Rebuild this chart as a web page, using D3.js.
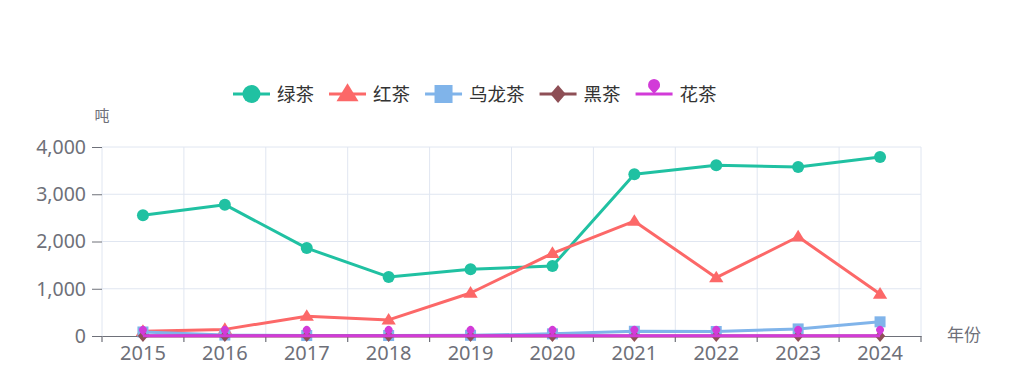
<!DOCTYPE html>
<html>
<head>
<meta charset="utf-8">
<script src="https://cdn.jsdelivr.net/npm/d3@7/dist/d3.min.js"></script>
<style>
  html, body { margin: 0; padding: 0; background: #fff; }
  svg { display: block; font-family: "Noto Sans", "Noto Sans CJK SC", sans-serif; }
</style>
</head>
<body>
<svg id="chart" width="1024" height="366"></svg>
<script>
// ---- data ----
const years = ["2015","2016","2017","2018","2019","2020","2021","2022","2023","2024"];
const seriesNames = ["绿茶","红茶","乌龙茶","黑茶","花茶"];
const greenTea  = [2555, 2780, 1860, 1250, 1415, 1480, 3425, 3615, 3575, 3790];
const blackTea  = [100, 140, 420, 340, 910, 1750, 2430, 1235, 2100, 890];
const oolongTea = [85, 20, 10, 10, 15, 45, 100, 95, 150, 300];
const darkTea   = [2, 2, 2, 2, 2, 2, 2, 2, 2, 2];
const flowerTea = [5, 5, 5, 5, 5, 5, 5, 5, 5, 5];
const yTicks = [0, 1000, 2000, 3000, 4000];
const yAxisName = "吨";
const xAxisName = "年份";

const seriesValues = [greenTea, blackTea, oolongTea, darkTea, flowerTea];
const colors = ["#20c1a2", "#fc6868", "#80b4ea", "#8e4f56", "#d23bd8"];
const symbols = ["circle", "triangle", "square", "diamond", "pin"];

// ---- layout ----
const svg = d3.select("#chart");
const gLeft = 102, gRight = 921, gTop = 147, gBottom = 336;

const x = d3.scaleBand().domain(years).range([gLeft, gRight]);
const y = d3.scaleLinear().domain([0, 4000]).range([gBottom, gTop]);

const gridColor = "#e0e6f1";
const axisColor = "#6e7079";

// horizontal grid
svg.append("g").selectAll("line").data(yTicks.filter(t => t > 0)).join("line")
  .attr("x1", gLeft).attr("x2", gRight)
  .attr("y1", d => y(d)).attr("y2", d => y(d))
  .attr("stroke", gridColor).attr("stroke-width", 1);

// vertical grid at band boundaries
const bounds = years.map(d => x(d)).concat([gRight]);
svg.append("g").selectAll("line").data(bounds).join("line")
  .attr("x1", d => d).attr("x2", d => d)
  .attr("y1", gTop).attr("y2", gBottom)
  .attr("stroke", gridColor).attr("stroke-width", 1);

// y axis
const yAxis = d3.axisLeft(y).tickValues(yTicks).tickSize(10).tickPadding(6)
  .tickFormat(d3.format(","));
const gy = svg.append("g").attr("transform", `translate(${gLeft},0)`).call(yAxis);
gy.select(".domain").remove();
gy.selectAll(".tick line").attr("stroke", axisColor);
gy.selectAll(".tick text").attr("fill", axisColor).style("font-size", "19.5px")
  .style("font-family", "'Noto Sans', sans-serif");

// x axis
const gx = svg.append("g").attr("transform", `translate(0,${gBottom})`)
  .call(d3.axisBottom(x).tickSize(0).tickPadding(10));
gx.select(".domain").attr("stroke", axisColor).attr("stroke-width", 1.2);
gx.selectAll(".tick text").attr("fill", axisColor).style("font-size", "20px")
  .style("font-family", "'Noto Sans', sans-serif");
gx.selectAll(".tick line").remove();
gx.append("g").selectAll("line").data(bounds).join("line")
  .attr("x1", d => d).attr("x2", d => d).attr("y1", 0).attr("y2", 6)
  .attr("stroke", axisColor).attr("stroke-width", 1.2);

// axis names
svg.append("text").attr("x", 102).attr("y", 121).attr("text-anchor", "middle")
  .attr("fill", axisColor).style("font-size", "15px")
  .style("font-family", "'Noto Sans CJK SC', sans-serif").text(yAxisName);
svg.append("text").attr("x", 947).attr("y", 341).attr("text-anchor", "start")
  .attr("fill", axisColor).style("font-size", "17px")
  .style("font-family", "'Noto Sans CJK SC', sans-serif").text(xAxisName);

// symbol drawing
function drawSymbol(g, type, cx, cy, size, color) {
  if (type === "circle") {
    g.append("circle").attr("cx", cx).attr("cy", cy).attr("r", size / 2).attr("fill", color);
  } else if (type === "triangle") {
    const h = size * 0.9, w = size * 1.1;
    g.append("path").attr("d", `M${cx},${cy - h * 0.6} L${cx + w / 2},${cy + h * 0.4} L${cx - w / 2},${cy + h * 0.4} Z`).attr("fill", color);
  } else if (type === "square") {
    g.append("rect").attr("x", cx - size / 2).attr("y", cy - size / 2)
      .attr("width", size).attr("height", size).attr("fill", color);
  } else if (type === "diamond") {
    const w = size * 0.85, h = size;
    g.append("path").attr("d", `M${cx},${cy - h / 2} L${cx + w / 2},${cy} L${cx},${cy + h / 2} L${cx - w / 2},${cy} Z`).attr("fill", color);
  } else if (type === "pin") {
    const r = size * 0.3;
    const by = cy - size * 0.45;
    g.append("path").attr("d",
      `M${cx},${cy} L${cx - r * 0.8},${by + r * 0.6} A${r},${r} 0 1 1 ${cx + r * 0.8},${by + r * 0.6} Z`)
      .attr("fill", color);
  }
}

// lines & markers
const line = d3.line().x((d, i) => x(years[i]) + x.bandwidth() / 2).y(d => y(d));
const markerSizes = [12, 13, 11, 12, 13];
seriesValues.forEach((vals, si) => {
  const g = svg.append("g");
  g.append("path").datum(vals).attr("d", line)
    .attr("fill", "none").attr("stroke", colors[si]).attr("stroke-width", 3)
    .attr("stroke-linejoin", "round");
  vals.forEach((v, i) => {
    drawSymbol(g, symbols[si], x(years[i]) + x.bandwidth() / 2, y(v), markerSizes[si], colors[si]);
  });
});

// legend
const legend = svg.append("g");
let lx = 233;
const ly = 94;
const legendMarkerSizes = [18, 20, 18, 18, 20];
seriesNames.forEach((name, si) => {
  const g = legend.append("g");
  g.append("line").attr("x1", lx).attr("x2", lx + 37).attr("y1", ly).attr("y2", ly)
    .attr("stroke", colors[si]).attr("stroke-width", 3);
  drawSymbol(g, symbols[si], lx + 18.5, ly, legendMarkerSizes[si], colors[si]);
  const t = g.append("text").attr("x", lx + 44).attr("y", ly + 6.5)
    .attr("fill", "#333").style("font-size", "18.5px")
    .style("font-family", "'Noto Sans CJK SC', sans-serif").text(name);
  const w = t.node().getComputedTextLength();
  lx += 44 + w + 15;
});
</script>
</body>
</html>
